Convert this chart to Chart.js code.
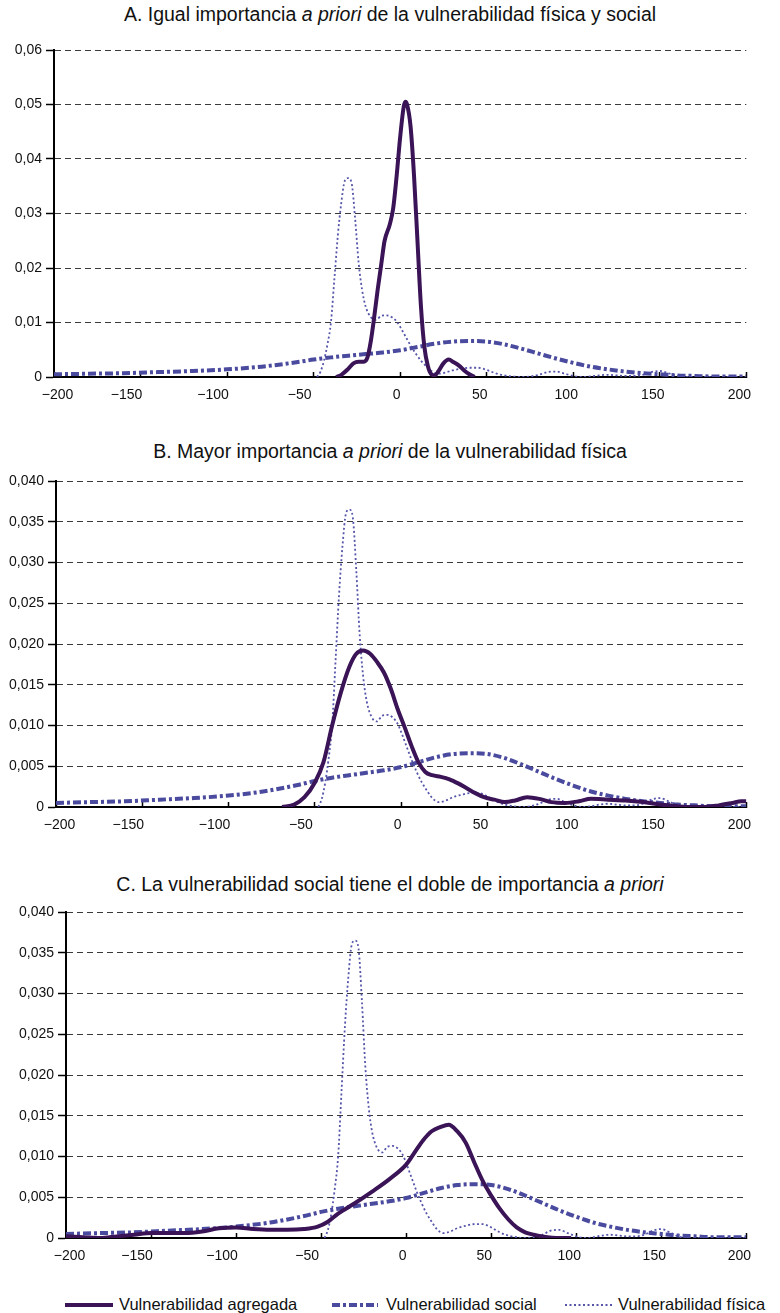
<!DOCTYPE html>
<html>
<head>
<meta charset="utf-8">
<script src="https://cdn.jsdelivr.net/npm/chart.js@4.4.0/dist/chart.umd.min.js"></script>
<style>
body { margin: 0; background: #fff; width: 780px; height: 1313px; position: relative; overflow: hidden;
       font-family: "Liberation Sans", Arial, sans-serif; color: #111; }
.title { position: absolute; left: 0; width: 780px; text-align: center; font-size: 19.5px; line-height: 22px; }
canvas { position: absolute; left: 0; }
.mark { position: absolute; top: 1300px; }
.ltext { position: absolute; top: 1294px; font-size: 16.5px; line-height: 20px; white-space: nowrap; }
</style>
</head>
<body>
<div class="title" style="top:3px">A. Igual importancia <i>a priori</i> de la vulnerabilidad física y social</div>
<canvas id="chartA" width="780" height="372" style="top:30px"></canvas>

<div class="title" style="top:440px">B. Mayor importancia <i>a priori</i> de la vulnerabilidad física</div>
<canvas id="chartB" width="780" height="372" style="top:461px"></canvas>

<div class="title" style="top:873px">C. La vulnerabilidad social tiene el doble de importancia <i>a priori</i></div>
<canvas id="chartC" width="780" height="372" style="top:892px"></canvas>

<svg class="mark" style="left:65px" width="48" height="10"><line x1="0" y1="5" x2="48" y2="5" stroke="#3a1456" stroke-width="4"/></svg>
<div class="ltext" style="left:119px">Vulnerabilidad agregada</div>
<svg class="mark" style="left:332px" width="46" height="10"><line x1="0" y1="5" x2="46" y2="5" stroke="#4a4a9e" stroke-width="4" stroke-dasharray="8 3 3 3"/></svg>
<div class="ltext" style="left:386px">Vulnerabilidad social</div>
<svg class="mark" style="left:565px" width="47" height="10"><line x1="0" y1="5" x2="47" y2="5" stroke="#5555aa" stroke-width="1.8" stroke-dasharray="2 2.5"/></svg>
<div class="ltext" style="left:618px">Vulnerabilidad física</div>

<script>
// Densidades
const fisicaX = [-48, -46, -44, -42, -40, -38, -36, -34, -32, -30, -28, -26, -24, -22, -20, -17, -14, -11, -8, -5,
                 -2, 0, 3, 6, 9, 12, 15, 18, 22, 26, 30, 35, 40, 45, 50, 55, 60, 65, 70, 75,
                 80, 85, 90, 95, 100, 105, 110, 115, 120, 125, 130, 135, 140, 145, 150, 155, 160, 165, 200];
const fisicaY = [0, 0.001, 0.003, 0.006, 0.010, 0.018, 0.026, 0.032, 0.036, 0.0365, 0.0355, 0.029, 0.021, 0.016, 0.013, 0.011, 0.0105, 0.0112, 0.0113, 0.011,
                 0.0102, 0.0092, 0.0075, 0.0058, 0.0043, 0.0030, 0.0020, 0.0011, 0.0006, 0.0008, 0.0012, 0.0015, 0.0017, 0.0017, 0.0013, 0.0007, 0.0003, 0.0001, 0, 0.0001,
                 0.0004, 0.0009, 0.0010, 0.0006, 0.0002, 0, 0.0001, 0.0003, 0.0004, 0.0003, 0.0002, 0.0002, 0.0004, 0.0009, 0.0011, 0.0007, 0.0002, 0, 0];

const socialX = [-200, -180, -160, -140, -120, -100, -80, -60, -50, -40, -30, -20, -10, 0, 10, 20, 30,
                 40, 50, 60, 70, 80, 90, 100, 110, 120, 130, 140, 150, 160, 170, 180, 190, 200];
const socialY = [0.0005, 0.0006, 0.0007, 0.0009, 0.0011, 0.0014, 0.0019, 0.0027, 0.0032, 0.0036, 0.0039, 0.0042, 0.0045, 0.0049, 0.0055, 0.0061, 0.0065,
                 0.0066, 0.0065, 0.0060, 0.0052, 0.0043, 0.0034, 0.0026, 0.0019, 0.0014, 0.0010, 0.0007, 0.0005, 0.0003, 0.0002, 0.0001, 0.0001, 0.0001];

const agregadaAX = [-37, -34, -30, -27, -24, -21, -19, -17, -15, -13, -11, -9, -6, -4, -2, 0, 2, 3,
                    4, 6, 8, 10, 12, 14, 16, 18, 20, 22, 25, 28, 31, 34, 37, 40, 43];
const agregadaAY = [0, 0.0004, 0.0015, 0.0025, 0.0028, 0.0028, 0.0035, 0.0065, 0.011, 0.016, 0.0205, 0.025, 0.028, 0.031, 0.037, 0.044, 0.0495, 0.0505,
                    0.050, 0.046, 0.037, 0.025, 0.013, 0.0055, 0.002, 0.0005, 0.0003, 0.0010, 0.0025, 0.0032, 0.0027, 0.0021, 0.0012, 0.0005, 0];

const agregadaBX = [-69, -62, -56, -50, -45, -40, -35, -30, -26, -22, -18, -14, -10, -6, -2, 2, 6, 10, 14, 18, 23, 28, 33,
                    38, 43, 48, 54, 60, 66, 73, 80, 87, 95, 103, 110, 120, 130, 140, 150, 160, 168, 176, 184, 192, 197, 200];
const agregadaBY = [0, 0.0003, 0.0012, 0.0030, 0.0055, 0.0100, 0.0140, 0.0172, 0.0188, 0.0192, 0.0188, 0.0178, 0.0165, 0.0145, 0.0120, 0.0098, 0.0075, 0.0055, 0.0043, 0.0039, 0.0037, 0.0034, 0.0029,
                    0.0023, 0.0017, 0.0012, 0.0009, 0.0006, 0.0008, 0.0012, 0.0010, 0.0006, 0.0005, 0.0007, 0.0010, 0.0009, 0.0008, 0.0006, 0.0003, 0.0001, 0, 0, 0.0002, 0.0005, 0.0007, 0.0007];

const agregadaCX = [-200, -190, -180, -170, -160, -150, -140, -130, -120, -110, -100, -90, -80, -70, -60, -52, -46, -40, -30, -20,
                    -10, 0, 5, 10, 15, 20, 25, 30, 35, 40, 45, 50, 55, 60, 65, 70, 75, 80, 90, 97];
const agregadaCY = [0.0002, 0.0001, 0, 0.0002, 0.0004, 0.0006, 0.0006, 0.0006, 0.0008, 0.0012, 0.0013, 0.0011, 0.0010, 0.0010, 0.0011, 0.0014, 0.0020, 0.0030, 0.0043, 0.0057,
                    0.0072, 0.0090, 0.0105, 0.0120, 0.0131, 0.0136, 0.0139, 0.0131, 0.0117, 0.0093, 0.0070, 0.0052, 0.0036, 0.0023, 0.0013, 0.0007, 0.0004, 0.0002, 0, 0];

const FONT = '"Liberation Sans", Arial, sans-serif';
Chart.defaults.font.family = FONT;
Chart.defaults.font.size = 14;
Chart.defaults.color = '#111';

const pts = (xs, ys) => xs.map((x, i) => ({ x: x, y: ys[i] }));

// etiquetas del eje x: signo menos tipografico, ligeramente corridas a la izquierda como en el original
function xLabel(v) {
    if (v === -200) return '\u2002\u2212200';
    if (v < 0) return '\u2212' + (-v) + '\u2003\u2003';
    if (v === 0) return '0\u2002';
    return v + '\u2003';
}

function makeChart(id, agX, agY, yMax, yStep, dec, yW, xH, padRight) {
    new Chart(document.getElementById(id), {
        type: 'line',
        data: {
            datasets: [{
                label: 'Vulnerabilidad agregada',
                data: pts(agX, agY),
                borderColor: '#3a1456',
                borderWidth: 4,
            }, {
                label: 'Vulnerabilidad social',
                data: pts(socialX, socialY),
                borderColor: '#4a4a9e',
                borderWidth: 4,
                borderDash: [8, 3, 3, 3],
            }, {
                label: 'Vulnerabilidad física',
                data: pts(fisicaX, fisicaY),
                borderColor: '#5555aa',
                borderWidth: 1.8,
                borderDash: [2, 2.5],
            }]
        },
        options: {
            responsive: false,
            animation: false,
            layout: { padding: { top: 20, right: padRight, left: 0, bottom: 0 } },
            elements: {
                point: { radius: 0 },
                line: { cubicInterpolationMode: 'monotone', borderCapStyle: 'butt', fill: false }
            },
            plugins: { legend: { display: false }, tooltip: { enabled: false } },
            scales: {
                x: {
                    type: 'linear', min: -200, max: 200,
                    ticks: { stepSize: 50, padding: 15, callback: v => xLabel(v), maxRotation: 0 },
                    grid: { drawOnChartArea: false, drawTicks: true, tickLength: -5, tickColor: '#000', tickWidth: 1.5 },
                    border: { color: '#000', width: 2 },
                    afterFit: s => { s.height = xH; }
                },
                y: {
                    min: 0, max: yMax,
                    ticks: { stepSize: yStep, padding: 4,
                             callback: v => v === 0 ? '0' : v.toFixed(dec).replace('.', ',') },
                    grid: { color: '#3a3a3a', lineWidth: 1, tickLength: 8, tickColor: '#000', tickWidth: 1.5 },
                    border: { color: '#000', width: 2, dash: [6, 4] },
                    afterFit: s => { s.width = yW; }
                }
            }
        }
    });
}

makeChart('chartA', agregadaAX, agregadaAY, 0.06, 0.01, 2, 54, 25, 18);
makeChart('chartB', agregadaBX, agregadaBY, 0.04, 0.005, 3, 56, 26, 16);
makeChart('chartC', agregadaCX, agregadaCY, 0.04, 0.005, 3, 66, 26, 7);
</script>
</body>
</html>
